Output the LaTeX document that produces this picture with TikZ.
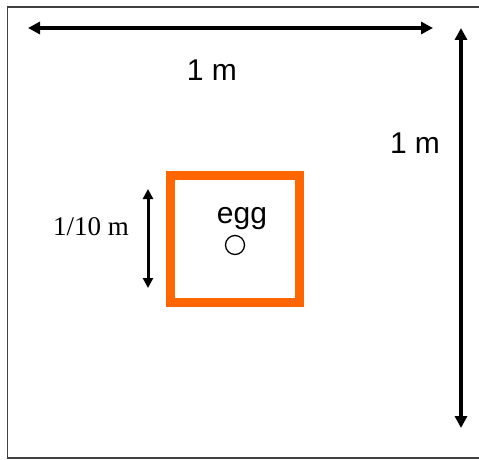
\documentclass[tikz,border=0pt]{standalone}
\usepackage{fontspec}
\setmainfont{Liberation Sans}
\newfontfamily\serifx{Liberation Serif}
\usetikzlibrary{arrows.meta}
\tikzset{
  dim/.style={line width=4pt, {Triangle[length=12pt,width=12pt]}-{Triangle[length=12pt,width=12pt]}},
  smalldim/.style={line width=3pt, {Triangle[length=10pt,width=10pt]}-{Triangle[length=10pt,width=10pt]}},
  lbl/.style={font=\fontsize{30pt}{34pt}\selectfont, inner sep=0pt},
}
\begin{document}
\begin{tikzpicture}[x=1pt,y=-1pt]
\useasboundingbox (0,0) rectangle (479,460);
\fill[white] (0,0) rectangle (479,460);
% frame
\draw[line width=1.6pt, draw=black!75] (481,7) -- (7.5,7) -- (7.5,458) -- (481,458);
% dimension arrows
\coordinate (h1) at (28,28);
\coordinate (h2) at (433,28);
\draw[dim] (h1) -- (h2);
\coordinate (v1) at (461,28);
\coordinate (v2) at (461,428);
\draw[dim] (v1) -- (v2);
\node[lbl] (topl) at (212,70) {1 m};
\node[lbl] (rightl) at (415,143) {1 m};
% orange square
\node[draw={rgb,255:red,255;green,102;blue,0}, line width=9.5pt, minimum width=129pt, minimum height=127pt, inner sep=0pt] (sq) at (235,239) {};
\node[lbl] (egg) at (242,219) {egg};
\node[draw, circle, line width=1.3pt, minimum size=19pt, inner sep=0pt] (eggc) at (235,245) {};
% small dimension
\coordinate (s1) at (148,189);
\coordinate (s2) at (148,288);
\draw[smalldim] (s1) -- (s2);
\node[font=\serifx\fontsize{27pt}{30pt}\selectfont, inner sep=0pt] (tenth) at (91,227) {1/10 m};
\end{tikzpicture}
\end{document}
